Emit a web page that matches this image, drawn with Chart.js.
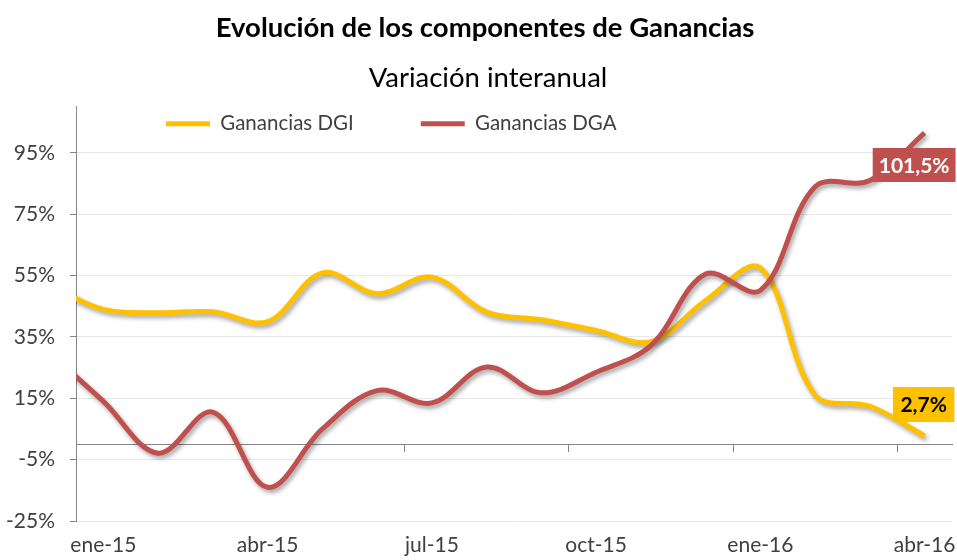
<!DOCTYPE html>
<html>
<head>
<meta charset="utf-8">
<script src="https://cdn.jsdelivr.net/npm/chart.js@4.4.1/dist/chart.umd.min.js"></script>
<style>
  html, body { margin: 0; padding: 0; background: #ffffff; }
  #c { display: block; }
</style>
</head>
<body>
<canvas id="c" width="957" height="560"></canvas>
<script>
// ---------- DATA ----------
const chartTitle = 'Evolución de los componentes de Ganancias';
const chartSubtitle = 'Variación interanual';
const seriesNames = ['Ganancias DGI', 'Ganancias DGA'];
// monthly categories (dic-14 lies just left of the visible axis range)
const months = ['dic-14', 'ene-15', 'feb-15', 'mar-15', 'abr-15', 'may-15', 'jun-15', 'jul-15', 'ago-15',
                'sep-15', 'oct-15', 'nov-15', 'dic-15', 'ene-16', 'feb-16', 'mar-16', 'abr-16'];
const dgiValues = [52, 44, 42.9, 43.2, 40.0, 55.9, 49.1, 54.5, 43.1, 40.6, 37.1, 33.5, 46.9, 57.5, 16.0, 12.4, 2.7];
const dgaValues = [30, 14, -2.9, 10.5, -14.0, 5.0, 17.5, 13.5, 25.2, 16.8, 23.5, 32.2, 55.5, 50.2, 84.0, 86.0, 101.5];
const xTickLabels = ['ene-15', 'abr-15', 'jul-15', 'oct-15', 'ene-16', 'abr-16'];
const yTickValues = [-25, -5, 15, 35, 55, 75, 95];

// ---------- derived ----------
const firstVisible = months.indexOf('ene-15');
const xOf = m => months.indexOf(m) - firstVisible;
const xLabelPos = xTickLabels.map(xOf);
const xBoundaryPos = xLabelPos.slice(1).map(v => v - 0.5);
const xMin = 0 - 0.5;
const xMax = xOf(months[months.length - 1]) + 0.5;
const toPoints = vals => vals.map((v, i) => ({ x: xOf(months[i]), y: v }));

const FONT = 'Lato';
const TXT = '#404040';

const shadowPlugin = {
  id: 'lineShadow',
  beforeDatasetDraw(chart) {
    const c = chart.ctx;
    c.save();
    c.shadowColor = 'rgba(0,0,0,0.35)';
    c.shadowBlur = 4;
    c.shadowOffsetX = 2;
    c.shadowOffsetY = 3;
  },
  afterDatasetDraw(chart) { chart.ctx.restore(); }
};

const endLabelPlugin = {
  id: 'endLabels',
  afterDatasetsDraw(chart, args, opts) {
    const ctx = chart.ctx;
    chart.data.datasets.forEach((ds, i) => {
      const st = opts.styles[i];
      if (!st) return;
      const meta = chart.getDatasetMeta(i);
      const pt = meta.data[meta.data.length - 1];
      const val = ds.data[ds.data.length - 1].y;
      const text = val.toFixed(1).replace('.', ',') + '%';
      ctx.save();
      ctx.font = 'bold 21px ' + FONT;
      const w = ctx.measureText(text).width + 2 * st.padX;
      const h = st.h;
      const cx = pt.x + st.dx, cy = pt.y + st.dy;
      ctx.fillStyle = st.bg;
      ctx.fillRect(cx - w / 2, cy - h / 2, w, h);
      ctx.fillStyle = st.color;
      ctx.textAlign = 'center';
      ctx.textBaseline = 'middle';
      ctx.fillText(text, cx, cy + 1);
      ctx.restore();
    });
  }
};

const placePlugin = {
  id: 'place',
  afterLayout(chart, args, opts) {
    const lg = chart.legend;
    if (lg) {
      lg.left = opts.legendLeft;
      lg.top = opts.legendTop;
      lg.right = chart.width;
      lg.bottom = opts.legendTop + 150;
      lg.width = lg.right - lg.left;
      lg.height = 150;
    }
    chart.boxes.forEach(b => {
      if (!b.options || typeof b.options.text !== 'string') return;
      const dx = b.options.text === chartTitle ? opts.titleShift
               : b.options.text === chartSubtitle ? opts.subtitleShift : 0;
      b.left += dx;
      b.right += dx;
    });
  }
};

new Chart(document.getElementById('c'), {
  type: 'line',
  data: {
    datasets: [
      {
        label: seriesNames[0],
        data: toPoints(dgiValues),
        borderColor: '#FFC000',
        backgroundColor: '#FFC000',
        borderWidth: 5,
        pointRadius: 0,
        tension: 0.36,
        order: 1,
        clip: { left: 0, top: false, right: false, bottom: false }
      },
      {
        label: seriesNames[1],
        data: toPoints(dgaValues),
        borderColor: '#C0504D',
        backgroundColor: '#C0504D',
        borderWidth: 5,
        pointRadius: 0,
        tension: 0.36,
        order: 0,
        clip: { left: 0, top: false, right: false, bottom: false }
      }
    ]
  },
  options: {
    responsive: false,
    animation: false,
    devicePixelRatio: 1,
    layout: { padding: { left: 0, right: 5, top: 0, bottom: 0 } },
    interaction: { mode: 'nearest', intersect: false },
    scales: {
      x: {
        type: 'linear',
        position: 'bottom',
        min: xMin,
        max: xMax,
        afterBuildTicks: s => { s.ticks = xLabelPos.map(v => ({ value: v })); },
        afterFit: s => { s.height = 39; s.paddingLeft = 0; s.paddingRight = 0; },
        ticks: {
          autoSkip: false,
          maxRotation: 0,
          padding: 12,
          color: TXT,
          font: { family: FONT, size: 21 },
          callback: v => { const k = xLabelPos.indexOf(v); return k >= 0 ? xTickLabels[k] : ''; }
        },
        grid: { display: false, drawTicks: false },
        border: { display: false }
      },
      x0: {
        type: 'linear',
        position: { y: 0 },
        min: xMin,
        max: xMax,
        afterBuildTicks: s => { s.ticks = xBoundaryPos.map(v => ({ value: v })); },
        afterFit: s => { s.height = 0; s.paddingLeft = 0; s.paddingRight = 0; },
        ticks: { display: false },
        grid: { drawOnChartArea: false, drawTicks: true, tickLength: 7, tickColor: '#868686', tickWidth: 1 },
        border: { display: true, color: '#868686', width: 1 }
      },
      y: {
        min: -25,
        max: 110,
        afterBuildTicks: s => { s.ticks = yTickValues.map(v => ({ value: v })); },
        afterFit: s => { s.width = 76; },
        ticks: {
          padding: 15,
          color: TXT,
          font: { family: FONT, size: 21 },
          callback: v => v + '%'
        },
        grid: { color: '#e8e8e8', lineWidth: 1, tickColor: '#868686', tickLength: 6 },
        border: { display: true, color: '#868686', width: 1 }
      }
    },
    plugins: {
      title: {
        display: true,
        text: chartTitle,
        color: '#000000',
        font: { family: FONT, size: 27.5, weight: 'bold' },
        padding: { top: 11.5, bottom: 8 }
      },
      subtitle: {
        display: true,
        text: chartSubtitle,
        color: '#000000',
        font: { family: FONT, size: 27.5, weight: 'normal' },
        padding: { top: 9, bottom: 11.4 }
      },
      legend: {
        display: true,
        position: 'top',
        align: 'start',
        maxHeight: 1,
        labels: {
          usePointStyle: true,
          pointStyle: 'line',
          pointStyleWidth: 44,
          padding: 67,
          color: TXT,
          font: { family: FONT, size: 20.5 },
          sort: (a, b) => a.datasetIndex - b.datasetIndex
        }
      },
      place: { legendLeft: 99, legendTop: 46.5, titleShift: 9, subtitleShift: 12 },
      tooltip: { enabled: false },
      endLabels: {
        styles: [
          { bg: '#FFC000', color: '#000000', dx: -1, dy: -31.5, padX: 7.5, h: 35 },
          { bg: '#C0504D', color: '#ffffff', dx: -10.5, dy: 32, padX: 6, h: 34 }
        ]
      }
    }
  },
  plugins: [shadowPlugin, endLabelPlugin, placePlugin]
});
</script>
</body>
</html>
